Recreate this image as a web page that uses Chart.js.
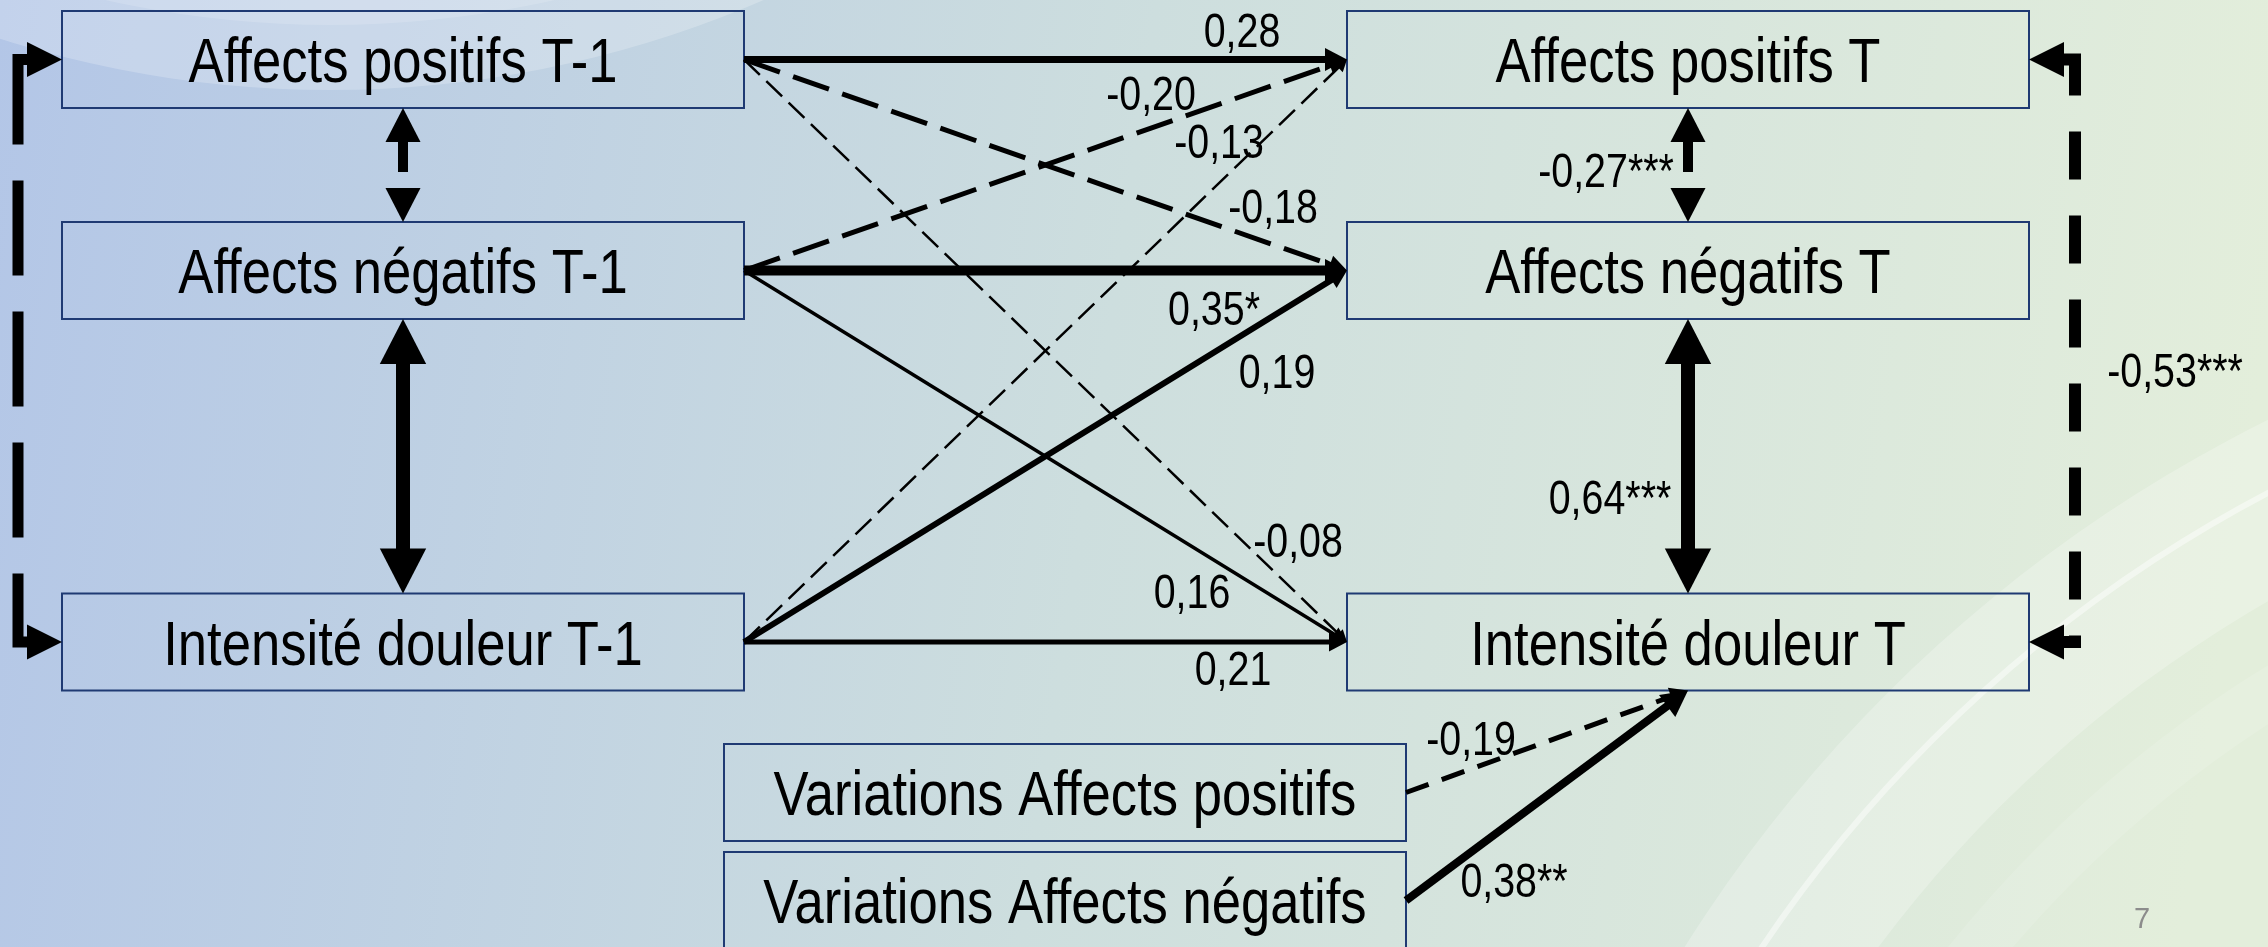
<!DOCTYPE html>
<html><head><meta charset="utf-8">
<script src="https://cdn.jsdelivr.net/npm/chart.js@4.4.1/dist/chart.umd.min.js"></script>
<style>html,body{margin:0;padding:0;overflow:hidden;background:#c8d8e0}canvas{display:block}</style>
</head><body>
<canvas id="c" width="2268" height="947"></canvas>
<script>
// ================= DATA =================
const nodeNames = ['Affects positifs T-1','Affects négatifs T-1','Intensité douleur T-1',
                   'Affects positifs T','Affects négatifs T','Intensité douleur T',
                   'Variations Affects positifs','Variations Affects négatifs'];
// directed paths (regressions)
const pathFrom = [0,0,0,1,1,1,2,2,2,6,7];
const pathTo   = [3,4,5,3,4,5,3,4,5,5,5];
const pathCoef = ['0,28','-0,18','-0,08','-0,20','0,35*','0,16','-0,13','0,19','0,21','-0,19','0,38**'];
// covariances (double-headed)
const covFrom = [0,1,3,4,0,3];
const covTo   = [1,2,4,5,2,5];
const covCoef = ['','','-0,27***','0,64***','','-0,53***'];
const pageNumber = '7';

// ================= LAYOUT / STYLE =================
const nodeCX = [403,403,403,1688,1688,1688,1065,1065];
const nodeCY = [59.5,270.5,642,59.5,270.5,642,792.5,900.5];
const nodeW = 682, nodeH = 97;
const pathTargetSide = ['left','left','left','left','left','left','left','left','left','bottom','bottom'];
const pathWidth = [7,5,2.5,5,10,3.5,2.5,6,5,5,8];
const pathDash  = [[],[38,14],[22,9],[38,14],[],[],[22,9],[],[],[24,14],[]];
const pathHead  = [22,18,12,18,22,15,12,18,18,18,26];
const pathLabelX = [1242,1273,1298,1151,1214,1192,1219,1277,1233,1471,1514];
const pathLabelY = [47,223,557,110,325,608,158,388,685,755,897];
const covWidth = [10,14,10,14,11,12];
const covDash  = [[31,80],[],[31,80],[],[95,36],[48,36]];
const covHead  = [34,45,34,45,35,35];
const covKind  = ['vertical','vertical','vertical','vertical','bracketLeft','bracketRight'];
const bracketX = {bracketLeft:18, bracketRight:2075};
const covLabelX = [0,0,1606,1610,0,2175];
const covLabelY = [0,0,187,514,0,387];

// ================= GEOMETRY =================
function anchor(i, side){
  const x = nodeCX[i], y = nodeCY[i];
  if (side==='left') return {x:x-nodeW/2, y};
  if (side==='right') return {x:x+nodeW/2, y};
  if (side==='top') return {x, y:y-nodeH/2};
  return {x, y:y+nodeH/2};
}
const datasets = [];
pathFrom.forEach((f,k)=>{
  const s = anchor(f,'right'), t = anchor(pathTo[k], pathTargetSide[k]);
  const dx=t.x-s.x, dy=t.y-s.y, L=Math.hypot(dx,dy), d={x:dx/L,y:dy/L};
  const h = pathHead[k];
  datasets.push({
    label: nodeNames[f]+' → '+nodeNames[pathTo[k]]+' ('+pathCoef[k]+')',
    data:[s,{x:t.x-d.x*(h-1), y:t.y-d.y*(h-1)}],
    showLine:true, borderColor:'#000', backgroundColor:'#000', borderWidth:pathWidth[k],
    borderDash:pathDash[k], pointRadius:0, clip:false, tension:0,
    heads:[{tip:t, dir:d, len:h, w:h*1.05}]
  });
});
covFrom.forEach((a,k)=>{
  const b = covTo[k], h = covHead[k], kind = covKind[k];
  let pts, heads;
  if (kind==='vertical'){
    const t1 = anchor(a,'bottom'), t2 = anchor(b,'top');
    pts = [{x:t1.x,y:t1.y+h-1},{x:t2.x,y:t2.y-h+1}];
    heads = [{tip:t1,dir:{x:0,y:-1},len:h,w:h*1.03},{tip:t2,dir:{x:0,y:1},len:h,w:h*1.03}];
  } else {
    const side = kind==='bracketLeft' ? 'left' : 'right';
    const sg = kind==='bracketLeft' ? 1 : -1;
    const t1 = anchor(a,side), t2 = anchor(b,side);
    const bx = bracketX[kind];
    pts = [{x:t1.x-sg*(h-1),y:t1.y},{x:bx,y:t1.y},{x:bx,y:t2.y},{x:t2.x-sg*(h-1),y:t2.y}];
    heads = [{tip:t1,dir:{x:sg,y:0},len:h,w:h},{tip:t2,dir:{x:sg,y:0},len:h,w:h}];
  }
  datasets.push({
    label: nodeNames[a]+' ↔ '+nodeNames[b]+(covCoef[k]?' ('+covCoef[k]+')':''),
    data:pts, showLine:true, borderColor:'#000', backgroundColor:'#000',
    borderWidth:covWidth[k], borderDash:covDash[k], pointRadius:0, clip:false, tension:0,
    borderJoinStyle:'miter', heads
  });
});

function narrowText(ctx, txt, x, y, size, sx){
  ctx.save(); ctx.translate(x,y); ctx.scale(sx,1);
  ctx.font = size+'px "Liberation Sans", Arial, sans-serif';
  ctx.textAlign = 'center'; ctx.textBaseline='alphabetic';
  ctx.fillStyle = '#000'; ctx.fillText(txt,0,0); ctx.restore();
}

const diagramPlugin = {
  id:'diagram',
  beforeDraw(chart){
    const {ctx, width, height} = chart;
    ctx.save();
    const g = ctx.createLinearGradient(0,0,width,height*0.35);
    g.addColorStop(0,'#b3c6e7'); g.addColorStop(0.5,'#cddede'); g.addColorStop(1,'#e3eedb');
    ctx.fillStyle = g; ctx.fillRect(0,0,width,height);
    // decorative arcs bottom-right
    const cx=2912, cy=1719;
    ctx.beginPath(); ctx.arc(cx,cy,1450,0,Math.PI*2); ctx.arc(cx,cy,1290,0,Math.PI*2,true);
    ctx.fillStyle='rgba(255,255,255,0.24)'; ctx.fill();
    ctx.beginPath(); ctx.arc(cx,cy,1385,0,Math.PI*2); ctx.lineWidth=6;
    ctx.strokeStyle='rgba(255,255,255,0.45)'; ctx.stroke();
    ctx.beginPath(); ctx.arc(cx,cy,1210,0,Math.PI*2); ctx.lineWidth=50;
    ctx.strokeStyle='rgba(255,255,255,0.12)'; ctx.stroke();
    // decorative arcs top-left
    const tx=330, ty=-1000;
    ctx.beginPath(); ctx.arc(tx,ty,1090,0,Math.PI*2);
    ctx.fillStyle='rgba(255,255,255,0.22)'; ctx.fill();
    ctx.beginPath(); ctx.arc(tx,ty,1025,0,Math.PI*2);
    ctx.fillStyle='rgba(255,255,255,0.15)'; ctx.fill();
    ctx.beginPath(); ctx.arc(tx,ty,975,0,Math.PI*2); ctx.lineWidth=10;
    ctx.strokeStyle='rgba(255,255,255,0.35)'; ctx.stroke();
    ctx.restore();
  },
  beforeDatasetsDraw(chart){
    const ctx = chart.ctx, xs = chart.scales.x, ys = chart.scales.y;
    ctx.save();
    ctx.strokeStyle = '#1f3a73'; ctx.lineWidth = 2;
    nodeNames.forEach((n,i)=>{
      const x1 = xs.getPixelForValue(nodeCX[i]-nodeW/2), x2 = xs.getPixelForValue(nodeCX[i]+nodeW/2);
      const y1 = ys.getPixelForValue(nodeCY[i]-nodeH/2), y2 = ys.getPixelForValue(nodeCY[i]+nodeH/2);
      ctx.strokeRect(x1,y1,x2-x1,y2-y1);
    });
    ctx.restore();
  },
  afterDatasetsDraw(chart){
    const ctx = chart.ctx, xs = chart.scales.x, ys = chart.scales.y;
    const X = v=>xs.getPixelForValue(v), Y = v=>ys.getPixelForValue(v);
    ctx.save();
    ctx.fillStyle = '#000';
    chart.data.datasets.forEach(ds=>(ds.heads||[]).forEach(h=>{
      const bx = h.tip.x - h.dir.x*h.len, by = h.tip.y - h.dir.y*h.len;
      const px = -h.dir.y, py = h.dir.x;
      ctx.beginPath();
      ctx.moveTo(X(h.tip.x), Y(h.tip.y));
      ctx.lineTo(X(bx+px*h.w/2), Y(by+py*h.w/2));
      ctx.lineTo(X(bx-px*h.w/2), Y(by-py*h.w/2));
      ctx.closePath(); ctx.fill();
    }));
    // node labels
    nodeNames.forEach((n,i)=>narrowText(ctx, n, X(nodeCX[i]), Y(nodeCY[i]+22.5), 63, 0.835));
    // coefficients
    pathCoef.forEach((c,k)=>narrowText(ctx, c, X(pathLabelX[k]), Y(pathLabelY[k]), 48, 0.82));
    covCoef.forEach((c,k)=>{ if(c) narrowText(ctx, c, X(covLabelX[k]), Y(covLabelY[k]), 48, 0.82); });
    // page number
    ctx.font = '29px "Liberation Sans", Arial, sans-serif';
    ctx.fillStyle = '#8c8c8c'; ctx.textAlign='center'; ctx.textBaseline='alphabetic';
    ctx.fillText(pageNumber, X(2142), Y(928));
    ctx.restore();
  }
};

new Chart(document.getElementById('c'), {
  type:'scatter',
  data:{datasets},
  options:{
    responsive:false, animation:false, events:[],
    layout:{padding:0},
    scales:{
      x:{type:'linear', min:0, max:2268, display:false},
      y:{type:'linear', min:0, max:947, reverse:true, display:false}
    },
    plugins:{legend:{display:false}, tooltip:{enabled:false}, title:{display:false}}
  },
  plugins:[diagramPlugin]
});
</script>
</body></html>
